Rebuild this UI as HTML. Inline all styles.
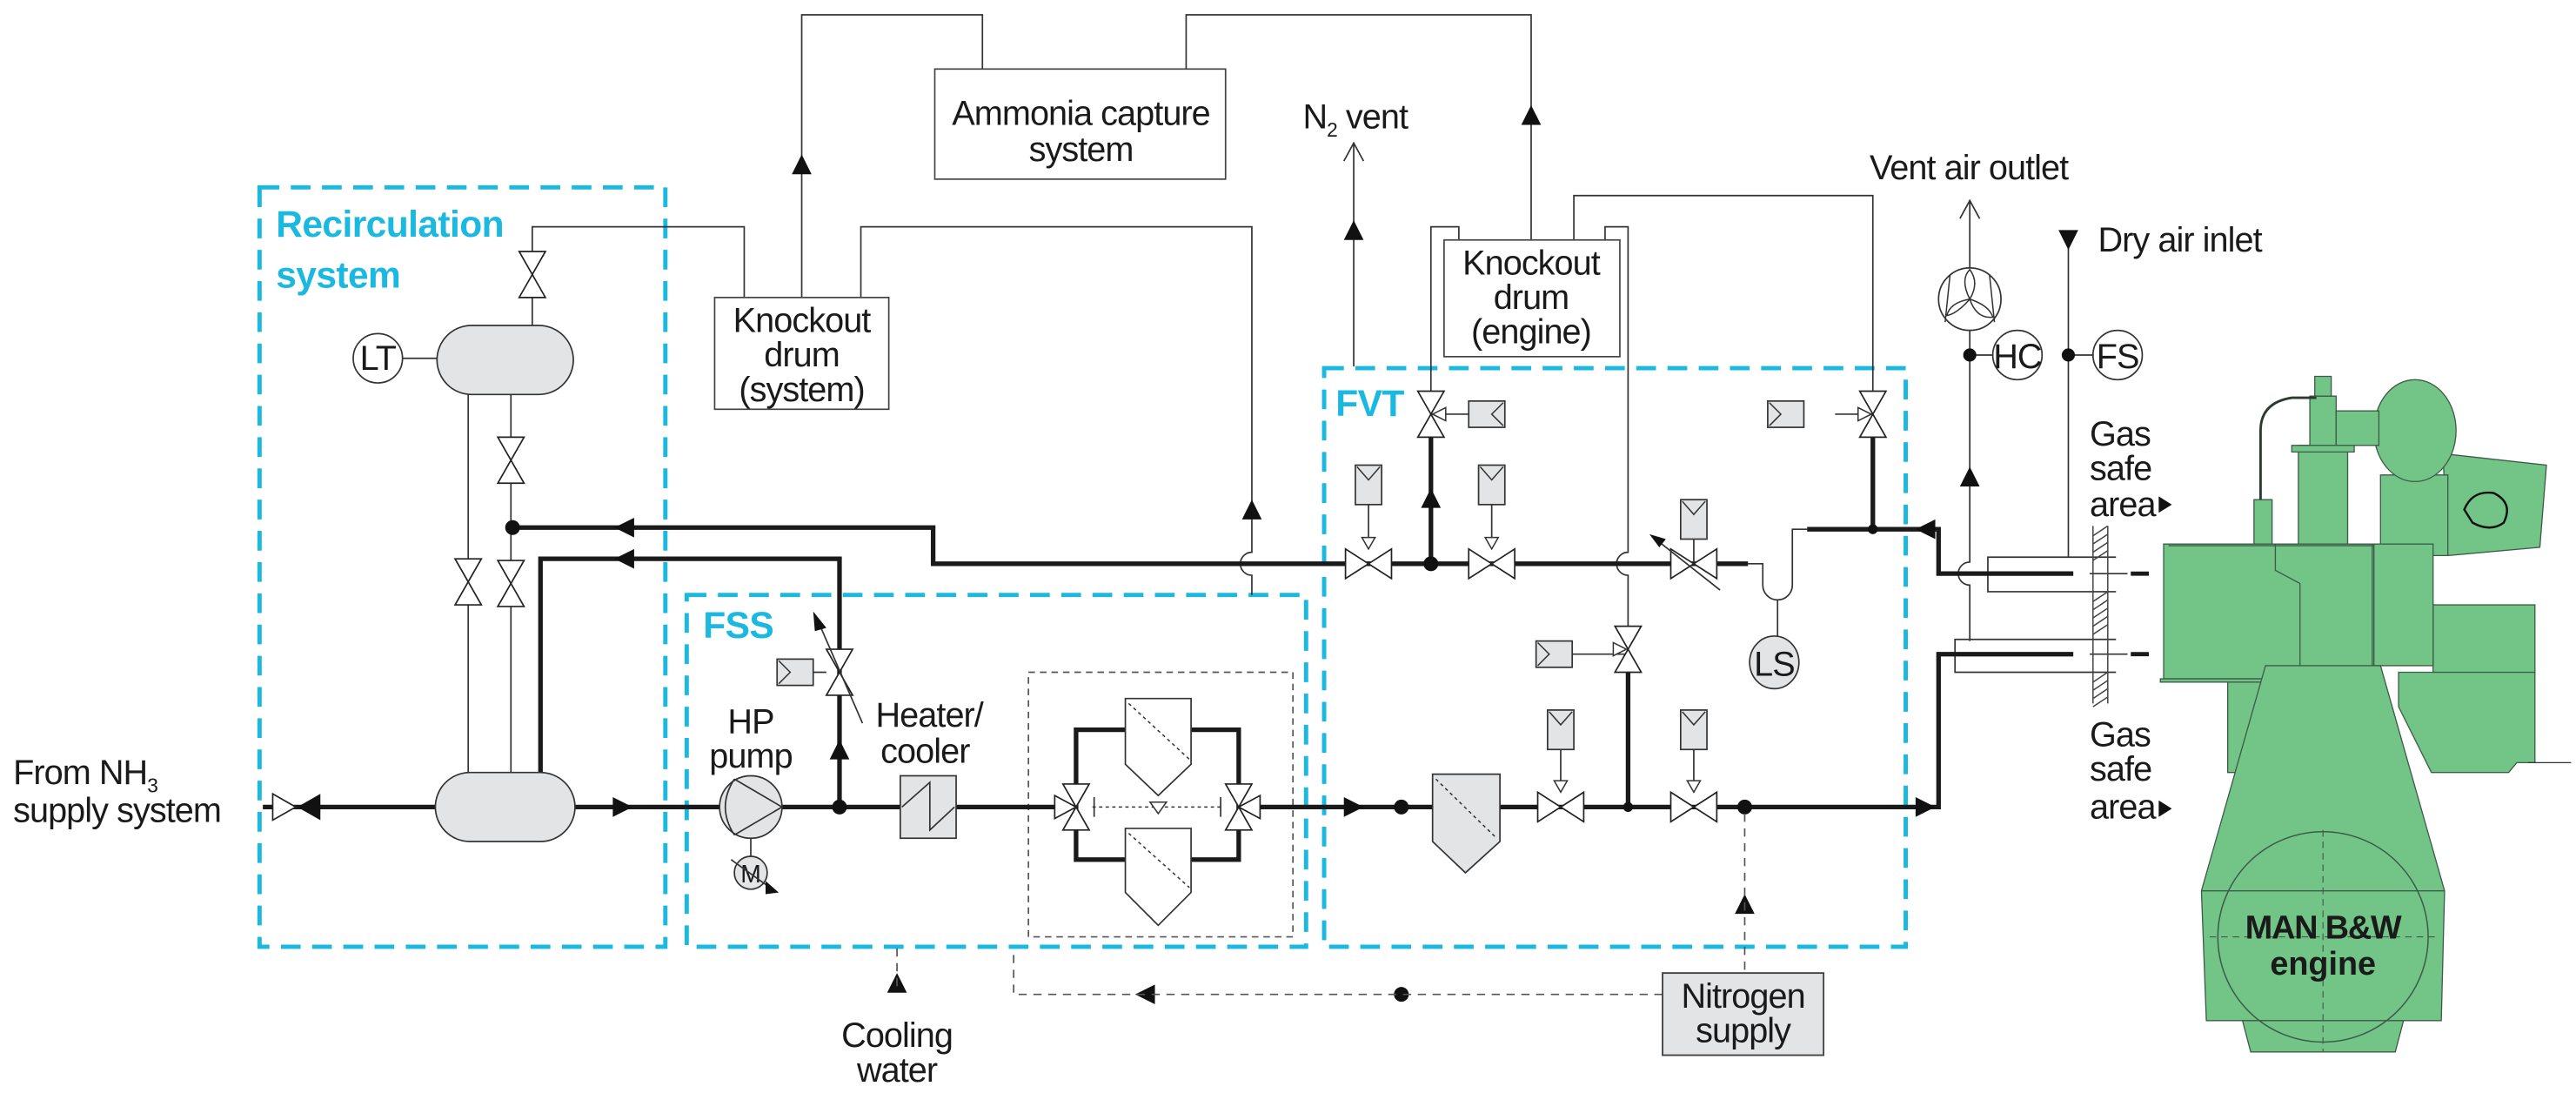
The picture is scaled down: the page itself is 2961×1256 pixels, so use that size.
<!DOCTYPE html>
<html><head><meta charset="utf-8"><style>
html,body{margin:0;padding:0;background:#fff;}
svg{display:block;}
text{font-family:"Liberation Sans",Arial,sans-serif;fill:#1a1a1a;}
.t{font-size:21px;letter-spacing:-0.5px;}
.c{text-anchor:middle;}
.cy{fill:#1BB8E0;font-weight:bold;font-size:22.5px;letter-spacing:-0.3px;}
</style></head><body>
<svg width="2961" height="1256" viewBox="0 0 1568 665" preserveAspectRatio="none" xmlns="http://www.w3.org/2000/svg">
<defs>
<g id="vh"><path d="M-14,-9 L0,0 L-14,9 Z M14,-9 L0,0 L14,9 Z" fill="#fff" stroke="#222" stroke-width="0.9"/></g>
<g id="vv"><path d="M-8,-14 L8,-14 L0,0 Z M-8,14 L8,14 L0,0 Z" fill="#fff" stroke="#222" stroke-width="0.9"/></g>
<g id="actV"><rect x="-8" y="-12" width="16" height="24" fill="#e3e4e5" stroke="#333" stroke-width="0.9"/><path d="M-7,-11 L0,-3 L7,-11" fill="none" stroke="#333" stroke-width="0.8"/></g>
<g id="actR"><rect x="-11" y="-8" width="22" height="16" fill="#e3e4e5" stroke="#333" stroke-width="0.9"/><path d="M-10,-7 L-3,0 L-10,7" fill="none" stroke="#333" stroke-width="0.8"/></g>
<g id="actL"><rect x="-11" y="-8" width="22" height="16" fill="#e3e4e5" stroke="#333" stroke-width="0.9"/><path d="M10,-7 L3,0 L10,7" fill="none" stroke="#333" stroke-width="0.8"/></g>
</defs>

<g fill="none" stroke="#1BB8E0" stroke-width="2.6" stroke-dasharray="12,7">
<rect x="158" y="114" width="247" height="462"/>
<rect x="418" y="362" width="377" height="214"/>
<rect x="806" y="224" width="354" height="352"/>
</g>
<rect x="626" y="409" width="161" height="161" fill="none" stroke="#555" stroke-width="0.9" stroke-dasharray="4,3"/>

<g fill="none" stroke="#333" stroke-width="0.9">
<path d="M488,181 V9 H598 V66"/>
<path d="M722,66 V9 H932 V146"/>
<path d="M324,198 V138 H453 V181"/>
<path d="M524,181 V138 H762 V336 A7,7 0 0 0 762,350 V362"/>
<line x1="245" y1="218" x2="266" y2="218"/>
<line x1="285" y1="240" x2="285" y2="470"/>
<line x1="311" y1="240" x2="311" y2="470"/>
<path d="M824,223 V87 M818,98 L824,87 L830,98"/>
<path d="M888,146 V138 H871 V243"/>
<path d="M958,146 V119 H1140 V243"/>
<path d="M977,146 V138 H991 V336 A7,7 0 0 0 991,350 V386"/>
<path d="M1199,390 V356 A7,7 0 0 1 1199,342 V122 M1193,133 L1199,122 L1205,133"/>
<path d="M1259,146 V339"/>
<line x1="1199" y1="216" x2="1213" y2="216"/>
<line x1="1259" y1="216" x2="1274" y2="216"/>
<path d="M1288,339 H1210 V360 H1288"/>
<path d="M1288,389 H1190 V409 H1288"/>
<path d="M1272,349 H1295 M1272,398 H1295"/>
<path d="M1100,322 H1091 V356 A9,9 0 0 1 1073,356 V343 H1064"/>
<line x1="1082" y1="365" x2="1082" y2="388"/>
<line x1="457" y1="510" x2="457" y2="522"/>
</g>
<g stroke="#444" stroke-width="0.8">
<line x1="1274" y1="320" x2="1274" y2="428"/><line x1="1283" y1="320" x2="1283" y2="428"/>
<path d="M1274,326 L1283,320 M1274,331 L1283,325 M1274,336 L1283,330 M1274,341 L1283,335
M1274,366 L1283,360 M1274,371 L1283,365 M1274,376 L1283,370 M1274,381 L1283,375 M1274,386 L1283,380
M1274,415 L1283,409 M1274,420 L1283,414 M1274,425 L1283,419 M1274,430 L1283,424"/>
</g>
<g stroke="#1a1a1a" stroke-width="2.6"><line x1="1297" y1="349" x2="1308" y2="349"/><line x1="1297" y1="398" x2="1308" y2="398"/></g>

<rect x="569" y="42" width="177" height="67" fill="#fff" stroke="#444" stroke-width="0.9"/>
<rect x="435" y="181" width="106" height="68" fill="#fff" stroke="#444" stroke-width="0.9"/>
<rect x="879" y="146" width="107" height="71" fill="#fff" stroke="#444" stroke-width="0.9"/>

<g fill="none" stroke="#1a1a1a" stroke-width="2.8">
<path d="M160,491 H265 M350,491 H438 M476,491 H548 M582,491 H646"/>
<rect x="655" y="444" width="99" height="79"/>
<path d="M763,491 H1180 V398 H1262"/>
<path d="M1262,349 H1180 V322 H1100"/>
<path d="M1064,343 H568 V321 H312"/>
<path d="M511,491 V340 H329 V470"/>
<path d="M871,261 V343"/>
<path d="M1140,261 V322"/>
<path d="M991,404 V491"/>
</g>

<rect x="266" y="198" width="83" height="42" rx="21" fill="#e3e4e5" stroke="#333" stroke-width="0.9"/>
<rect x="265" y="470" width="85" height="42" rx="21" fill="#e3e4e5" stroke="#333" stroke-width="0.9"/>
<circle cx="230" cy="218" r="15" fill="#fff" stroke="#333" stroke-width="0.9"/>
<text x="230" y="225" class="t c" font-size="19">LT</text>

<use href="#vv" x="324" y="167"/>
<use href="#vv" x="311" y="280"/>
<use href="#vv" x="285" y="354"/>
<use href="#vv" x="311" y="355"/>

<path d="M166,483 L166,499 L180,491 Z" fill="#fff" stroke="#222" stroke-width="0.9"/>
<path d="M195,483 L195,499 L181,491 Z" fill="#111"/>

<circle cx="457" cy="491" r="19" fill="#e3e4e5" stroke="#333" stroke-width="0.9"/>
<path d="M447,474 L476,491 L447,508 M447,474 Q436,491 447,508" fill="none" stroke="#333" stroke-width="0.9"/>
<circle cx="457" cy="531" r="10" fill="#e3e4e5" stroke="#333" stroke-width="0.9"/>
<text x="457" y="537" class="c" font-size="15">M</text>
<path d="M445,523 L470,541" stroke="#333" stroke-width="0.9"/>
<path d="M466,536 L474,543 L466,544 Z" fill="#111"/>

<rect x="548" y="472" width="34" height="38" fill="#e3e4e5" stroke="#333" stroke-width="0.9"/>
<path d="M549,491 L566,476 V505 L581,491" fill="none" stroke="#333" stroke-width="0.9"/>

<use href="#vv" x="511" y="409"/>
<line x1="494" y1="409" x2="503" y2="409" stroke="#333" stroke-width="0.9"/>
<use href="#actR" x="484" y="409"/>
<path d="M525,440 L498,378" stroke="#333" stroke-width="0.9"/>
<path d="M495,372 L503,382 L496,384 Z" fill="#111"/>

<g fill="#fff" stroke="#333" stroke-width="0.9">
<path d="M685,425 H725 V465 L705,484 L685,465 Z"/>
<path d="M685,504 H725 V543 L705,563 L685,543 Z"/>
</g>
<g stroke="#333" stroke-width="0.8" stroke-dasharray="2,2"><line x1="687" y1="428" x2="724" y2="462"/><line x1="687" y1="507" x2="724" y2="540"/><line x1="665" y1="491" x2="745" y2="491"/></g>
<path d="M700,488 L710,488 L705,495 Z" fill="#fff" stroke="#333" stroke-width="0.8"/>
<use href="#vv" x="655" y="491"/><path d="M655,491 L642,484 L642,498 Z" fill="#fff" stroke="#222" stroke-width="0.9"/>
<use href="#vv" x="754" y="491"/><path d="M754,491 L767,484 L767,498 Z" fill="#fff" stroke="#222" stroke-width="0.9"/>
<line x1="666" y1="485" x2="666" y2="497" stroke="#333" stroke-width="0.9"/>
<line x1="743" y1="485" x2="743" y2="497" stroke="#333" stroke-width="0.9"/>

<path d="M872,471 H913 V512 L892,531 L872,512 Z" fill="#e3e4e5" stroke="#333" stroke-width="0.9"/>
<line x1="874" y1="474" x2="911" y2="510" stroke="#333" stroke-width="0.8" stroke-dasharray="2,2"/>

<g stroke="#333" stroke-width="0.9">
<line x1="833" y1="297" x2="833" y2="334"/><line x1="908" y1="297" x2="908" y2="334"/>
<line x1="950" y1="445" x2="950" y2="482"/><line x1="1031" y1="445" x2="1031" y2="482"/>
<line x1="1031" y1="328" x2="1031" y2="343"/>
<line x1="871" y1="252" x2="894" y2="252"/><line x1="1117" y1="252" x2="1140" y2="252"/>
<line x1="957" y1="398" x2="991" y2="398"/>
</g>
<use href="#vh" x="833" y="343"/><use href="#vh" x="908" y="343"/>
<use href="#vh" x="950" y="491"/><use href="#vh" x="1031" y="491"/>
<use href="#vh" x="1031" y="343"/>
<g fill="#fff" stroke="#333" stroke-width="0.8">
<path d="M829,327 H837 L833,334 Z"/><path d="M904,327 H912 L908,334 Z"/>
<path d="M946,475 H954 L950,482 Z"/><path d="M1027,475 H1035 L1031,482 Z"/>
</g>
<use href="#actV" x="833" y="295"/><use href="#actV" x="908" y="295"/>
<use href="#actV" x="950" y="444"/><use href="#actV" x="1031" y="444"/>
<use href="#actV" x="1031" y="316"/>
<path d="M1047,359 L1009,329" stroke="#333" stroke-width="0.9"/>
<path d="M1004,325 L1014,328 L1010,333 Z" fill="#111"/>
<use href="#vv" x="871" y="252"/><path d="M872,252 L880,248 L880,256 Z" fill="#fff" stroke="#333" stroke-width="0.8"/>
<use href="#actL" x="905" y="252"/>
<use href="#vv" x="1140" y="252"/><path d="M1139,252 L1131,248 L1131,256 Z" fill="#fff" stroke="#333" stroke-width="0.8"/>
<use href="#actR" x="1087" y="252"/>
<use href="#vv" x="991" y="395"/><path d="M990,395 L982,391 L982,399 Z" fill="#fff" stroke="#333" stroke-width="0.8"/>
<use href="#actR" x="946" y="398"/>
<ellipse cx="1080" cy="403" rx="15" ry="16" fill="#e3e4e5" stroke="#333" stroke-width="0.9"/>
<text x="1080" y="411" class="t c">LS</text>

<circle cx="1199" cy="182" r="19" fill="#fff" stroke="#333" stroke-width="0.9"/>
<path d="M1199,182 Q1193,170 1199,164 Q1205,172 1199,182 Q1211,186 1213,193 Q1203,194 1199,182 Q1191,191 1185,192 Q1187,184 1199,182 Z" fill="#fff" stroke="#333" stroke-width="0.8"/>
<path d="M1187,167 L1184,196 M1211,167 L1214,196" stroke="#333" stroke-width="0.8"/>
<circle cx="1228" cy="216" r="15" fill="#fff" stroke="#333" stroke-width="0.9"/>
<text x="1228" y="224" class="t c">HC</text>
<circle cx="1289" cy="216" r="15" fill="#fff" stroke="#333" stroke-width="0.9"/>
<text x="1289" y="224" class="t c">FS</text>

<g fill="#111">
<circle cx="312" cy="321" r="4.5"/><circle cx="511" cy="491" r="4.5"/><circle cx="853" cy="491" r="4.5"/>
<circle cx="871" cy="343" r="4.5"/><circle cx="1062" cy="491" r="4.5"/><circle cx="991" cy="491" r="3"/>
<circle cx="1140" cy="322" r="3"/><circle cx="853" cy="605" r="4.5"/>
<circle cx="1199" cy="216" r="4"/><circle cx="1259" cy="216" r="4"/>
</g>

<g fill="#111">
<path d="M373,485 L385,491 L373,497 Z"/>
<path d="M818,485 L830,491 L818,497 Z"/>
<path d="M1166,485 L1178,491 L1166,497 Z"/>
<path d="M386,315 L374,321 L386,327 Z"/>
<path d="M386,334 L374,340 L386,346 Z"/>
<path d="M1178,316 L1166,322 L1178,328 Z"/>
<path d="M505,462 L511,450 L517,462 Z"/>
<path d="M865,309 L871,297 L877,309 Z"/>
<path d="M756,316 L762,304 L768,316 Z"/>
<path d="M482,106 L488,94 L494,106 Z"/>
<path d="M926,76 L932,64 L938,76 Z"/>
<path d="M818,146 L824,134 L830,146 Z"/>
<path d="M1193,296 L1199,284 L1205,296 Z"/>
<path d="M1253,140 L1265,140 L1259,152 Z"/>
<path d="M703,599 L691,605 L703,611 Z"/>
<path d="M1056,556 L1062,544 L1068,556 Z"/>
<path d="M540,604 L546,592 L552,604 Z"/>
<path d="M1314,302 L1322,307 L1314,312 Z"/>
<path d="M1314,487 L1322,492 L1314,497 Z"/>
</g>

<g fill="none" stroke="#555" stroke-width="0.9" stroke-dasharray="5,4">
<path d="M1062,495 V592"/>
<path d="M1012,605 H617 V577"/>
<path d="M546,577 V600"/>
</g>
<rect x="1012" y="592" width="98" height="50" fill="#e3e4e5" stroke="#444" stroke-width="1"/>

<g fill="#72C487" stroke="#3d5c47" stroke-width="0.7">
<path d="M1356,413 H1380 V470 H1356 Z"/>
<path d="M1460,409 H1543 V464 H1532 L1527,470 H1480 L1460,430 Z"/>
<path d="M1481,368 H1543 V409 H1481 Z"/>
<path d="M1487,276 L1550,283 L1546,333 L1490,338 Z"/>
<path d="M1449,289 H1490 V338 H1449 Z"/>
<ellipse cx="1470" cy="262" rx="25" ry="31"/>
<path d="M1399,271 H1429 V331 H1399 Z"/>
<path d="M1395,271 H1433 V275 H1395 Z"/>
<path d="M1406,241 H1422 V271 H1406 Z"/>
<path d="M1422,250 H1448 V271 H1422 Z"/>
<path d="M1409,229 H1419 V241 H1409 Z"/>
<path d="M1372,304 H1383 V331 H1372 Z"/>
<path d="M1317,331 H1445 V413 H1317 Z"/>
<path d="M1445,331 H1481 V405 H1445 Z"/>
<path d="M1315,413 H1449 V415 H1315 Z"/>
<path d="M1379,405 H1449 L1488,542 L1486,621 H1343 L1340,542 Z"/>
<path d="M1365,621 H1463 L1458,640 H1370 Z"/>
</g>
<path d="M1376,304 V262 Q1376,245 1395,242 L1410,242" fill="none" stroke="#2a3a2e" stroke-width="1.5"/>
<path d="M1320,332 H1445 M1385,331 V347 L1400,355 V405 M1444,331 V405 M1340,542 H1488 M1343,621 H1486" fill="none" stroke="#3d5c47" stroke-width="0.7"/>
<path d="M1500,310 Q1505,298 1518,300 Q1530,306 1524,318 Q1516,324 1505,318 Z" fill="none" stroke="#111" stroke-width="1.3"/>
<path d="M1539,464 H1565" stroke="#333" stroke-width="0.7"/>
<ellipse cx="1414" cy="570" rx="64" ry="64" fill="none" stroke="#3d5c47" stroke-width="0.8"/>
<path d="M1414,505 V640 M1345,570 H1483" stroke="#3d5c47" stroke-width="0.6" stroke-dasharray="4,3"/>
<text x="1414" y="571" class="c" font-size="20" font-weight="bold" letter-spacing="-0.6">MAN B&amp;W</text>
<text x="1414" y="593" class="c" font-size="20" font-weight="bold">engine</text>

<text x="168" y="144" class="cy">Recirculation</text>
<text x="168" y="175" class="cy">system</text>
<text x="428" y="388" class="cy" font-size="23">FSS</text>
<text x="813" y="253" class="cy" font-size="23">FVT</text>

<text x="658" y="76" class="t c">Ammonia capture</text>
<text x="658" y="98" class="t c">system</text>
<text x="488" y="202" class="t c">Knockout</text>
<text x="488" y="223" class="t c">drum</text>
<text x="488" y="244" class="t c">(system)</text>
<text x="932" y="167" class="t c">Knockout</text>
<text x="932" y="188" class="t c">drum</text>
<text x="932" y="209" class="t c">(engine)</text>
<text x="793" y="78" class="t">N<tspan font-size="12" dy="5">2</tspan><tspan dy="-5"> vent</tspan></text>
<text x="1138" y="109" class="t">Vent air outlet</text>
<text x="1277" y="153" class="t">Dry air inlet</text>
<text x="1272" y="271" class="t">Gas</text>
<text x="1272" y="292" class="t">safe</text>
<text x="1272" y="314" class="t">area</text>
<text x="1272" y="454" class="t">Gas</text>
<text x="1272" y="475" class="t">safe</text>
<text x="1272" y="498" class="t">area</text>
<text x="8" y="477" class="t">From NH<tspan font-size="12" dy="5">3</tspan></text>
<text x="8" y="500" class="t">supply system</text>
<text x="457" y="446" class="t c">HP</text>
<text x="457" y="467" class="t c">pump</text>
<text x="533" y="442" class="t">Heater/</text>
<text x="536" y="464" class="t">cooler</text>
<text x="546" y="637" class="t c">Cooling</text>
<text x="546" y="658" class="t c">water</text>
<text x="1061" y="613" class="t c">Nitrogen</text>
<text x="1061" y="634" class="t c">supply</text>
</svg>
</body></html>
